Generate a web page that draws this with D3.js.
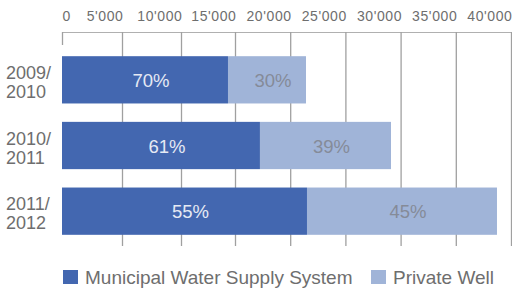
<!DOCTYPE html>
<html>
<head>
<meta charset="utf-8">
<script src="https://cdnjs.cloudflare.com/ajax/libs/d3/7.8.5/d3.min.js"></script>
<style>
  body { margin: 0; background: #fff; }
  svg { font-family: "Liberation Sans", Arial, Helvetica, sans-serif; }
</style>
</head>
<body>
<svg></svg>
<script>
var years = ["2009/2010", "2010/2011", "2011/2012"];
var municipal = [14350, 17260, 21520];
var privateWell = [7080, 11870, 17210];
var municipalPct = ["70%", "61%", "55%"];
var privatePct = ["30%", "39%", "45%"];
var tickValues = [0, 5000, 10000, 15000, 20000, 25000, 30000, 35000, 40000];
var seriesNames = ["Municipal Water Supply System", "Private Well"];
var colors = ["#4367b0", "#a0b4d8"];

var svgWidth = 512, svgHeight = 289;
var axisY = 32, gridBottom = 246;

var svg = d3.select("svg")
            .attr("width", svgWidth)
            .attr("height", svgHeight);

// the reference's tick spacing is not quite even, so a polylinear scale follows it
var x = d3.scaleLinear()
          .domain([0, 5000, 10000, 15000, 40000])
          .range([62, 122, 181, 235, 511]);

var y = d3.scaleBand()
          .domain(years)
          .range([47, 244])
          .paddingInner(0.28)
          .paddingOuter(0.14);

// axis on top, ticks run down as gridlines
var axis = d3.axisTop(x)
             .tickValues(tickValues)
             .tickSize(-(gridBottom - axisY))
             .tickSizeOuter(0)
             .tickPadding(11)
             .tickFormat(function(d) { return d3.format(",")(d).replace(/,/g, "'"); });

var g = svg.append("g")
           .attr("transform", "translate(0," + axisY + ")")
           .call(axis);

g.select(".domain").attr("stroke", "#b0b0b0").attr("stroke-width", 1.2);
g.selectAll(".tick line").attr("stroke", "#a0a0a0").attr("stroke-width", 1.3);
g.selectAll(".tick line").filter(function(d) { return d === 0; }).attr("y2", 13);
g.selectAll(".tick text")
 .attr("fill", "#6e6e6e")
 .attr("font-size", "14px")
 .attr("letter-spacing", "0.6px")
 .attr("text-anchor", function(d) { return d === 0 ? "start" : "end"; })
 .attr("dx", function(d) { return d === 0 ? 0 : 1; });
g.attr("font-family", null).attr("font-size", null);

// stacked bars
var rows = years.map(function(yr, i) {
  return { year: yr, a: municipal[i], b: privateWell[i], pa: municipalPct[i], pb: privatePct[i] };
});

var bars = svg.selectAll(".row")
              .data(rows)
              .enter()
              .append("g")
              .attr("class", "row");

bars.append("rect")
    .attr("x", x(0))
    .attr("y", function(d) { return y(d.year); })
    .attr("width", function(d) { return x(d.a) - x(0); })
    .attr("height", y.bandwidth())
    .attr("fill", colors[0]);

bars.append("rect")
    .attr("x", function(d) { return x(d.a); })
    .attr("y", function(d) { return y(d.year); })
    .attr("width", function(d) { return x(d.a + d.b) - x(d.a); })
    .attr("height", y.bandwidth())
    .attr("fill", colors[1]);

bars.append("text")
    .text(function(d) { return d.pa; })
    .attr("x", function(d) { return (x(0) + x(d.a)) / 2 + 6; })
    .attr("y", function(d) { return y(d.year) + y.bandwidth() / 2 + 7; })
    .attr("text-anchor", "middle")
    .attr("font-size", "18.5px")
    .attr("fill", "#e6eaf4");

bars.append("text")
    .text(function(d) { return d.pb; })
    .attr("x", function(d) { return (x(d.a) + x(d.a + d.b)) / 2 + 6; })
    .attr("y", function(d) { return y(d.year) + y.bandwidth() / 2 + 7; })
    .attr("text-anchor", "middle")
    .attr("font-size", "18.5px")
    .attr("fill", "#858b98");

// category labels on two lines
var labels = bars.append("text")
                 .attr("x", 6)
                 .attr("y", function(d) { return y(d.year) + y.bandwidth() / 2 - 1; })
                 .attr("font-size", "18px")
                 .attr("fill", "#6e6e6e");

labels.selectAll("tspan")
      .data(function(d) { var p = d.year.split("/"); return [p[0] + "/", p[1]]; })
      .enter()
      .append("tspan")
      .attr("x", 6)
      .attr("dy", function(d, i) { return i === 0 ? 0 : 19; })
      .text(function(d) { return d; });

// legend
var legendX = [63, 371];
var legend = svg.selectAll(".legend")
                .data(seriesNames)
                .enter()
                .append("g")
                .attr("class", "legend")
                .attr("transform", function(d, i) { return "translate(" + legendX[i] + ",270)"; });

legend.append("rect")
      .attr("width", 15)
      .attr("height", 14)
      .attr("fill", function(d, i) { return colors[i]; });

legend.append("text")
      .text(function(d) { return d; })
      .attr("x", 22)
      .attr("y", 14)
      .attr("font-size", "19px")
      .attr("fill", "#6e6e6e");
</script>
</body>
</html>
